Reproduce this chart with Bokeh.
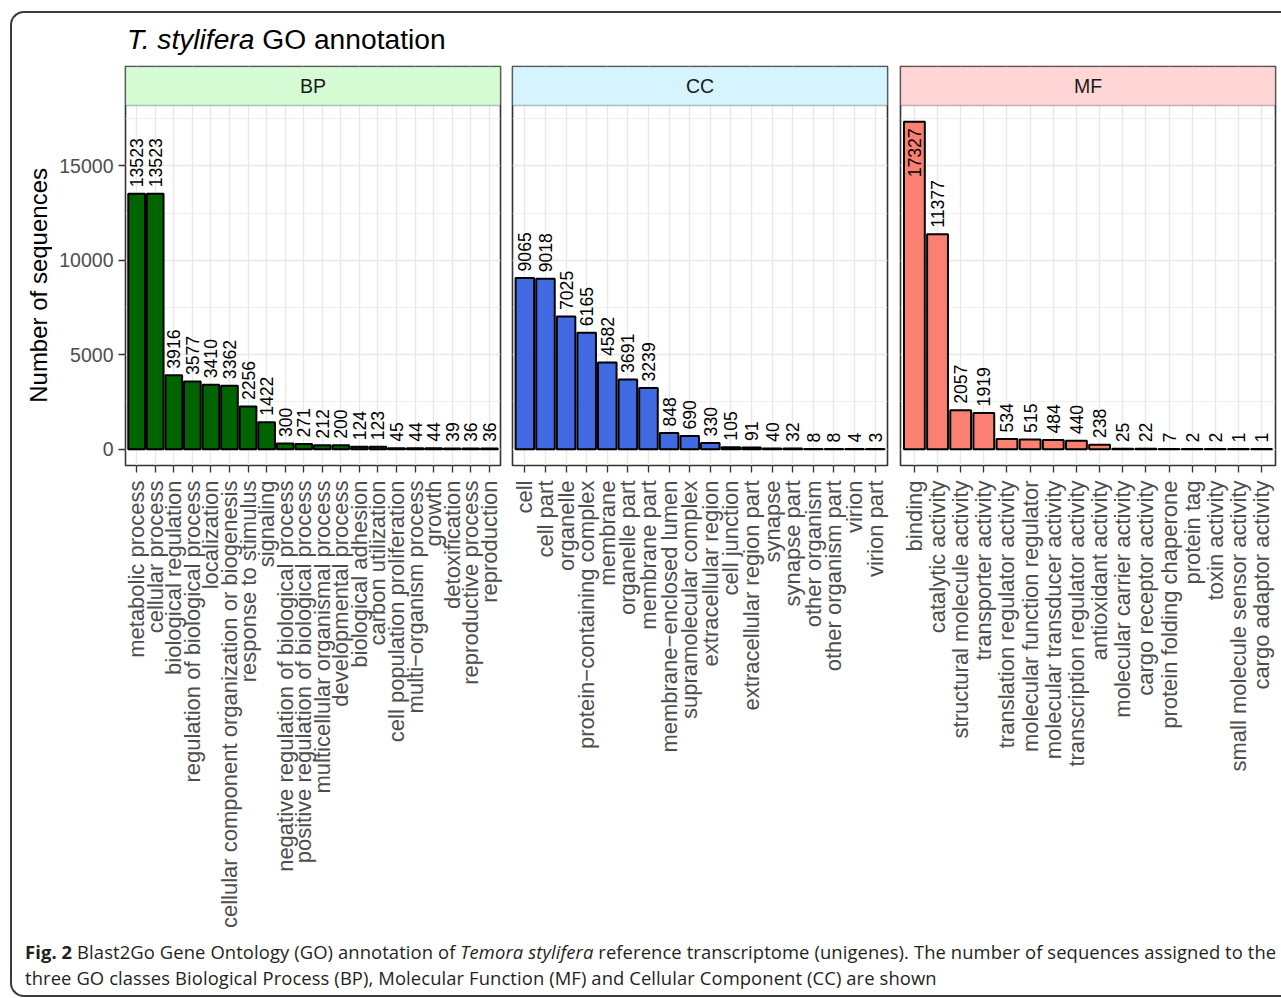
from math import pi

from bokeh.core.properties import value
from bokeh.embed import file_html
from bokeh.layouts import column, row
from bokeh.models import BoxAnnotation, Div, FactorRange, FixedTicker, Label, Range1d
from bokeh.plotting import figure
from bokeh.resources import INLINE

# ---- data: GO terms per class and the number of sequences in each ----
bp_terms = [
    "metabolic process", "cellular process", "biological regulation",
    "regulation of biological process", "localization",
    "cellular component organization or biogenesis", "response to stimulus",
    "signaling", "negative regulation of biological process",
    "positive regulation of biological process", "multicellular organismal process",
    "developmental process", "biological adhesion", "carbon utilization",
    "cell population proliferation", "multi\u2212organism process", "growth",
    "detoxification", "reproductive process", "reproduction",
]
bp_counts = [13523, 13523, 3916, 3577, 3410, 3362, 2256, 1422, 300, 271,
             212, 200, 124, 123, 45, 44, 44, 39, 36, 36]

cc_terms = [
    "cell", "cell part", "organelle", "protein\u2212containing complex", "membrane",
    "organelle part", "membrane part", "membrane\u2212enclosed lumen",
    "supramolecular complex", "extracellular region", "cell junction",
    "extracellular region part", "synapse", "synapse part", "other organism",
    "other organism part", "virion", "virion part",
]
cc_counts = [9065, 9018, 7025, 6165, 4582, 3691, 3239, 848, 690, 330,
             105, 91, 40, 32, 8, 8, 4, 3]

mf_terms = [
    "binding", "catalytic activity", "structural molecule activity",
    "transporter activity", "translation regulator activity",
    "molecular function regulator", "molecular transducer activity",
    "transcription regulator activity", "antioxidant activity",
    "molecular carrier activity", "cargo receptor activity",
    "protein folding chaperone", "protein tag", "toxin activity",
    "small molecule sensor activity", "cargo adaptor activity",
]
mf_counts = [17327, 11377, 2057, 1919, 534, 515, 484, 440, 238, 25, 22,
             7, 2, 2, 1, 1]

classes = ["BP", "CC", "MF"]
bar_colors = ["#006400", "#4169E1", "#FA8072"]
strip_colors = ["#D5FBD5", "#D5F4FF", "#FFD5D5"]

y_major = [0, 5000, 10000, 15000]
y_minor = [2500, 7500, 12500, 17500]
y_title = "Number of sequences"

# ---- shared geometry ----
FONT_NAME = "Liberation Sans"
FONT = value(FONT_NAME)
FRAME_W, PANEL_H, STRIP_H = 375, 360, 39
FRAME_H = PANEL_H + STRIP_H
TOP_PAD, BOTTOM_PAD = 10, 470
FIG_H = TOP_PAD + FRAME_H + BOTTOM_PAD
ymax_data = max(bp_counts + cc_counts + mf_counts)
y_lo, y_hi = -0.05 * ymax_data, 1.05 * ymax_data
units_per_px = (y_hi - y_lo) / PANEL_H
y_top = y_hi + STRIP_H * units_per_px
label_pad = 6.5 * units_per_px
digit_px = 9.8


def panel(name, terms, counts, bar_color, strip_color, left, right, show_y):
    n = len(terms)
    p = figure(
        x_range=FactorRange(*terms, range_padding=0.1, range_padding_units="absolute"),
        y_range=Range1d(y_lo, y_top),
        frame_width=FRAME_W, frame_height=FRAME_H,
        min_border_left=left, min_border_right=right,
        min_border_top=TOP_PAD, min_border_bottom=BOTTOM_PAD,
        toolbar_location=None, output_backend="svg",
        background_fill_color="white", border_fill_color="white",
    )
    p.outline_line_color = "#333333"
    p.outline_line_width = 1.6

    # grid
    p.ygrid.ticker = FixedTicker(ticks=y_major, minor_ticks=y_minor)
    p.ygrid.grid_line_color = "#E8E8E8"
    p.ygrid.grid_line_width = 1.4
    p.ygrid.minor_grid_line_color = "#EBEBEB"
    p.ygrid.minor_grid_line_width = 0.8
    p.xgrid.grid_line_color = "#E8E8E8"
    p.xgrid.grid_line_width = 1.4

    # bars
    p.vbar(x=terms, top=counts, bottom=0, width=0.9,
           fill_color=bar_color, line_color="black", line_width=2)

    # value labels, rotated; placed inside the bar when there is no room above
    ys, aligns = [], []
    for v in counts:
        need = label_pad + len(str(v)) * digit_px * units_per_px
        if v + need > y_hi:
            ys.append(v - label_pad)
            aligns.append("right")
        else:
            ys.append(v + label_pad)
            aligns.append("left")
    p.text(x=terms, y=ys, text=[str(v) for v in counts], angle=pi / 2,
           text_align=aligns, text_baseline="middle",
           text_font=FONT, text_font_size="17.6px", text_color="black")

    # facet strip
    p.add_layout(BoxAnnotation(bottom=y_hi, fill_color=strip_color, fill_alpha=1,
                               line_color="#333333", line_width=1.6))
    p.add_layout(Label(x=n / 2, y=(y_hi + y_top) / 2, text=name,
                       text_align="center", text_baseline="middle",
                       text_font=FONT_NAME, text_font_size="19.5px",
                       text_color="#1A1A1A"))

    # x axis
    xa = p.xaxis[0]
    xa.major_label_orientation = pi / 2
    xa.major_label_text_font = FONT_NAME
    xa.major_label_text_font_size = "22px"
    xa.major_label_text_color = "#4D4D4D"
    xa.major_label_standoff = 8
    xa.axis_line_color = None
    xa.major_tick_line_color = "#333333"
    xa.major_tick_line_width = 1.3
    xa.major_tick_out = 7
    xa.major_tick_in = 0

    # y axis
    ya = p.yaxis[0]
    ya.ticker = FixedTicker(ticks=y_major, minor_ticks=y_minor)
    if show_y:
        ya.major_label_text_font = FONT_NAME
        ya.major_label_text_font_size = "19.5px"
        ya.major_label_text_color = "#4D4D4D"
        ya.major_label_standoff = 5
        ya.axis_line_color = None
        ya.major_tick_line_color = "#333333"
        ya.major_tick_line_width = 1.3
        ya.major_tick_out = 7
        ya.major_tick_in = 0
        ya.minor_tick_line_color = None
    else:
        ya.visible = False
    return p


p_bp = panel("BP", bp_terms, bp_counts, bar_colors[0], strip_colors[0], 69, 6, True)
p_cc = panel("CC", cc_terms, cc_counts, bar_colors[1], strip_colors[1], 6, 7, False)
p_mf = panel("MF", mf_terms, mf_counts, bar_colors[2], strip_colors[2], 6, 6, False)

# y-axis title, centred on the bar panels (below the strips)
panel_mid = TOP_PAD + STRIP_H + PANEL_H // 2
ylab = Div(
    text=(f'<div style="height:{2 * panel_mid}px; display:flex; align-items:center;'
          ' padding-left:15px;">'
          '<span style="writing-mode:vertical-rl; transform:rotate(180deg);'
          ' font-family:\'Liberation Sans\'; font-size:24px; line-height:24px;'
          f' color:#000; white-space:nowrap;">{y_title}</span></div>'),
    width=44, height=FIG_H, margin=0,
)

title = Div(
    text=('<div style="font-family:\'Liberation Sans\'; font-size:28.2px; line-height:27px;'
          ' color:#000; margin:13px 0 0 115px; white-space:nowrap;">'
          '<i>T. stylifera</i> GO annotation</div>'),
    width=1269, height=43, margin=0,
)

caption = Div(
    text=('<div style="font-family:\'Open Sans\'; font-size:18.4px; line-height:26px;'
          ' color:#231F20; letter-spacing:0.1px; margin:4px 0 0 13px; white-space:nowrap;">'
          '<b>Fig. 2</b> Blast2Go Gene Ontology (GO) annotation of <i>Temora stylifera</i>'
          ' reference transcriptome (unigenes). The number of sequences assigned to the<br>'
          'three GO classes Biological Process (BP), Molecular Function (MF) and'
          ' Cellular Component (CC) are shown</div>'),
    width=1269, height=60, margin=0,
)

charts = row(ylab, p_bp, p_cc, p_mf, spacing=0, margin=0)
layout = column(
    title, charts, caption, spacing=0, margin=(11, 0, 0, 10),
    styles={"border": "2px solid #3A3A3A", "border-right": "none",
            "border-radius": "14px 0 0 14px", "background": "white"},
)

open("out.html", "w").write(file_html(layout, INLINE))
